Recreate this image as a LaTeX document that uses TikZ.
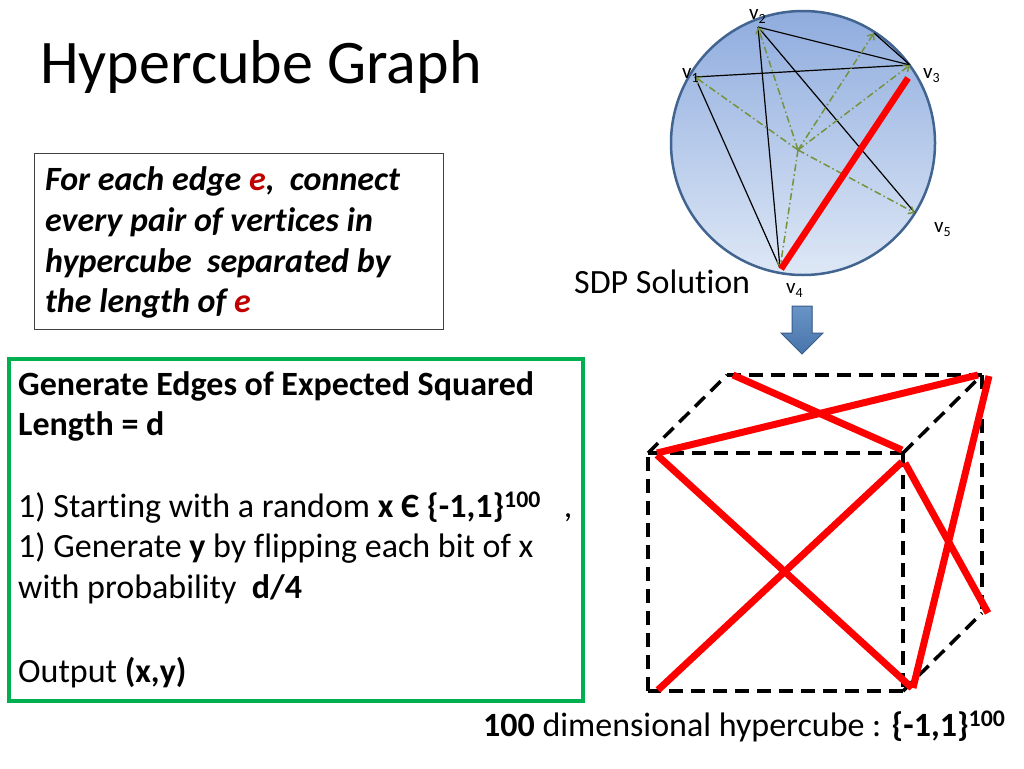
\documentclass[tikz,border=0pt]{standalone}
\usepackage{fontspec}
\setmainfont{Carlito}[Ligatures=NoCommon]
\usetikzlibrary{arrows.meta}
\definecolor{sdpgreen}{RGB}{118,146,60}
\definecolor{boxgreen}{RGB}{0,176,80}
\definecolor{circedge}{RGB}{65,100,145}
\definecolor{circtop}{RGB}{143,172,222}
\definecolor{circbot}{RGB}{222,232,246}
\definecolor{darkred}{RGB}{192,0,0}
\definecolor{arrowblue}{RGB}{79,129,189}
\definecolor{arrowedge}{RGB}{56,93,138}
\tikzset{
  txt/.style={anchor=base west, inner sep=0pt, font=\fontsize{34}{41}\selectfont},
  vlab/.style={anchor=base west, inner sep=0pt, font=\fontsize{21}{25}\selectfont},
  blackedge/.style={black, line width=1.2pt},
  proj/.style={sdpgreen, line width=1.5pt, dash pattern=on 7pt off 3pt on 1.5pt off 3pt, -{Straight Barb[length=5pt,width=8pt]}},
  cubeedge/.style={black, line width=3.5pt, dash pattern=on 14pt off 8pt},
  rededge/.style={red, line width=7pt},
}
\newcommand{\vsub}[1]{v\raisebox{-4pt}{\fontsize{14}{14}\selectfont #1}}
\begin{document}
\begin{tikzpicture}[x=1pt,y=-1pt]
\useasboundingbox[fill=white] (0,0) rectangle (1024,768);

% title
\node[anchor=base west, inner sep=0pt, font=\fontsize{62}{74}\selectfont] (title) at (40,83) {Hypercube Graph};

% box 1
\node[draw=black!75, line width=1pt, minimum width=409pt, minimum height=176pt, inner sep=0pt, anchor=north west] (box1) at (34,153) {};
\node[txt, font=\fontsize{34}{41}\selectfont\bfseries\itshape] (b1l1) at (45,190) {For each edge \textcolor{darkred}{e},\ \ connect};
\node[txt, font=\fontsize{34}{41}\selectfont\bfseries\itshape] (b1l2) at (45,231) {every pair of vertices in};
\node[txt, font=\fontsize{34}{41}\selectfont\bfseries\itshape] (b1l3) at (45,272) {hypercube\ \ separated by};
\node[txt, font=\fontsize{34}{41}\selectfont\bfseries\itshape] (b1l4) at (45,312) {the length of \textcolor{darkred}{e}};

% box 2
\node[draw=boxgreen, line width=4pt, minimum width=574pt, minimum height=342pt, inner sep=0pt, anchor=north west] (box2) at (7,357) {};
\node[txt, font=\fontsize{34}{41}\selectfont\bfseries] (b2l1) at (18,395) {Generate Edges of Expected Squared};
\node[txt, font=\fontsize{34}{41}\selectfont\bfseries] (b2l2) at (18,435) {Length = d};
\node[txt] (b2l3) at (18,517) {1) Starting with a random \textbf{x Є \{-1,1\}\textsuperscript{100}}\ \ \ ,};
\node[txt] (b2l4) at (18,557) {1) Generate \textbf{y} by flipping each bit of x};
\node[txt] (b2l5) at (18,598) {with probability\ \ \textbf{d/4}};
\node[txt] (b2l6) at (18,682) {Output \textbf{(x,y)}};

% caption
\node[txt] (caption) at (483,736) {\textbf{100} dimensional hypercube : \textbf{\{-1,1\}\textsuperscript{100}}};

% SDP circle
\node[circle, draw=circedge, line width=2.5pt, top color=circtop, bottom color=circbot, minimum size=264pt, inner sep=0pt] (circ) at (803,143) {};
\coordinate (v1) at (695,77);
\coordinate (v2) at (758,27);
\coordinate (v3) at (910,65);
\coordinate (v4) at (780,268);
\coordinate (v5) at (915,213);
\coordinate (v6) at (874,33);
\coordinate (c) at (798,150);

\draw[blackedge] (v2) -- (v3);
\draw[blackedge] (v1) -- (v3);
\draw[blackedge] (v1) -- (v4);
\draw[blackedge] (v2) -- (v4);
\draw[blackedge] (v2) -- (v5);
\draw[blackedge] (v3) -- (v6);

\foreach \t in {v1,v2,v3,v4,v5,v6} \draw[proj] (c) -- (\t);

\coordinate (r3) at (908,78);
\coordinate (r4) at (781,269);
\draw[red, line width=6.5pt] (r3) -- (r4);

\node[vlab] (l1) at (682,78) {\vsub{1}};
\node[vlab] (l2) at (749,20) {\vsub{2}};
\node[vlab] (l3) at (923,78) {\vsub{3}};
\node[vlab] (l4) at (786,293) {\vsub{4}};
\node[vlab] (l5) at (934,232) {\vsub{5}};

\node[txt] (sdp) at (574,293) {SDP Solution};

% blue arrow
\filldraw[draw=arrowedge, line width=1pt, top color=arrowblue!85!white, bottom color=arrowblue!90!black]
  (792,306) -- (812,306) -- (812,333) -- (823,333) -- (802,354) -- (781,333) -- (792,333) -- cycle;

% cube
\coordinate (fa) at (648,453);
\coordinate (fb) at (903,453);
\coordinate (fc) at (903,691);
\coordinate (fd) at (648,691);
\coordinate (ba) at (727,375);
\coordinate (bb) at (982,375);
\coordinate (bc) at (982,613);
\draw[cubeedge] (fa) -- (fb);
\draw[cubeedge] (fb) -- (fc);
\draw[cubeedge] (fc) -- (fd);
\draw[cubeedge] (fd) -- (fa);
\draw[cubeedge] (ba) -- (bb);
\draw[cubeedge] (bb) -- (bc);
\draw[cubeedge] (fa) -- (ba);
\draw[cubeedge] (fb) -- (bb);
\draw[cubeedge] (fc) -- (bc);

\coordinate (p1a) at (733,375);
\coordinate (p1b) at (902,450);
\coordinate (p2a) at (657,453);
\coordinate (p2b) at (978,375);
\coordinate (p3a) at (657,455);
\coordinate (p3b) at (912,688);
\coordinate (p4a) at (658,690);
\coordinate (p4b) at (902,462);
\coordinate (p5a) at (905,463);
\coordinate (p5b) at (988,613);
\coordinate (p6a) at (913,688);
\coordinate (p6b) at (989,376);
\draw[rededge] (p1a) -- (p1b);
\draw[rededge] (p2a) -- (p2b);
\draw[rededge] (p3a) -- (p3b);
\draw[rededge] (p4a) -- (p4b);
\draw[rededge] (p5a) -- (p5b);
\draw[rededge] (p6a) -- (p6b);
\end{tikzpicture}
\end{document}
